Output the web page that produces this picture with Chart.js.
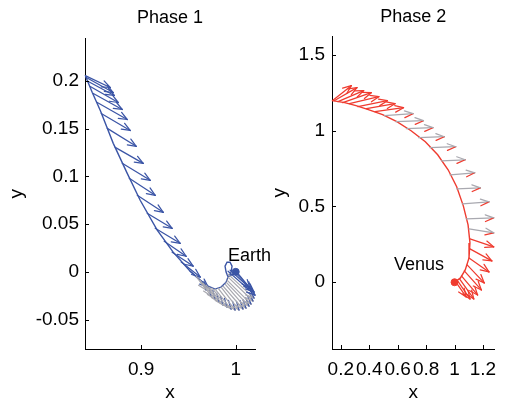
<!DOCTYPE html>
<html>
<head>
<meta charset="utf-8">
<script src="https://cdn.jsdelivr.net/npm/chart.js@4.4.1/dist/chart.umd.min.js"></script>
<style>
  body { margin: 0; background: #fff; }
  #c1 { position: absolute; left: 0; top: 0; }
  #c2 { position: absolute; left: 260px; top: 0; }
</style>
</head>
<body>
<canvas id="c1" width="290" height="406"></canvas>
<canvas id="c2" width="246" height="406"></canvas>
<script>
// Phase 1 - trajectory near Earth
const p1x = [0.8408, 0.8482, 0.8567, 0.8704, 0.8852, 0.8989, 0.9169, 0.9338, 0.9518, 0.9623, 0.9708, 0.9782, 0.9845, 0.9898, 0.9919, 0.9898, 0.9887, 0.9908, 0.9940, 0.9961, 0.9951, 0.9930, 0.9972, 1.0000];
const p1y = [0.2055, 0.1878, 0.1690, 0.1345, 0.1031, 0.0749, 0.0436, 0.0206, 0.0007, -0.0087, -0.0149, -0.0181, -0.0160, -0.0108, -0.0055, -0.0003, 0.0060, 0.0101, 0.0101, 0.0060, -0.0003, -0.0045, -0.0024, 0.0000];

// thrust arrows along the long leg
const q1x = [0.8408, 0.8419, 0.8440, 0.8461, 0.8493, 0.8535, 0.8577, 0.8641, 0.8725, 0.8799, 0.8873, 0.8958, 0.9063, 0.9148, 0.9243, 0.9327, 0.9423, 0.9518];
const q1y = [0.2055, 0.2034, 0.1993, 0.1940, 0.1867, 0.1773, 0.1658, 0.1502, 0.1303, 0.1136, 0.0979, 0.0801, 0.0613, 0.0456, 0.0320, 0.0206, 0.0102, 0.0007];
const q1u = [0.0264, 0.0285, 0.0275, 0.0296, 0.0306, 0.0317, 0.0306, 0.0306, 0.0296, 0.0296, 0.0275, 0.0275, 0.0264, 0.0264, 0.0232, 0.0222, 0.0201, 0.0190];
const q1v = [-0.0125, -0.0157, -0.0146, -0.0167, -0.0167, -0.0178, -0.0178, -0.0188, -0.0167, -0.0178, -0.0178, -0.0178, -0.0157, -0.0157, -0.0157, -0.0146, -0.0157, -0.0167];

// arrows in the hook close to Earth
const h1x = [0.9581, 0.9623, 0.9655, 0.9687, 0.9718, 0.9750, 0.9782, 0.9813, 0.9845, 0.9866, 0.9887, 0.9898, 0.9908, 0.9919, 0.9919, 0.9919, 0.9940, 0.9972, 1.0003];
const h1y = [-0.0045, -0.0087, -0.0118, -0.0139, -0.0160, -0.0170, -0.0181, -0.0170, -0.0160, -0.0149, -0.0129, -0.0108, -0.0087, -0.0055, -0.0024, 0.0007, 0.0018, 0.0018, 0.0007];
const h1u = [0.0106, 0.0116, 0.0127, 0.0137, 0.0148, 0.0158, 0.0169, 0.0180, 0.0190, 0.0211, 0.0222, 0.0243, 0.0254, 0.0264, 0.0275, 0.0285, 0.0254, 0.0201, 0.0148];
const h1v = [-0.0146, -0.0167, -0.0167, -0.0178, -0.0188, -0.0199, -0.0209, -0.0230, -0.0240, -0.0240, -0.0251, -0.0251, -0.0251, -0.0251, -0.0251, -0.0251, -0.0230, -0.0209, -0.0178];

// Phase 2 - arc to Venus
const p2x = [0.1399, 0.2267, 0.3069, 0.3937, 0.4939, 0.5941, 0.6943, 0.7945, 0.8814, 0.9548, 1.0150, 1.0617, 1.0951, 1.1085, 1.1018, 1.0751, 1.0417, 1.0000];
const p2y = [1.1967, 1.1835, 1.1637, 1.1373, 1.1043, 1.0581, 0.9987, 0.9261, 0.8403, 0.7413, 0.6290, 0.5036, 0.3782, 0.2594, 0.1604, 0.0812, 0.0284, 0.0000];

const q2x = [0.1399, 0.1532, 0.1800, 0.2134, 0.2601, 0.3202, 0.3804, 0.4405, 0.5073, 0.5874, 0.6609, 0.7478, 0.8279, 0.9081, 0.9682, 1.0150, 1.0551, 1.0818, 1.1018, 1.1085, 1.1085, 1.1018, 1.0885, 1.0684, 1.0484, 1.0351, 1.0217, 1.0083];
const q2y = [1.1967, 1.1967, 1.1901, 1.1835, 1.1769, 1.1571, 1.1439, 1.1241, 1.0977, 1.0581, 1.0119, 0.9525, 0.8865, 0.8007, 0.7082, 0.6158, 0.5168, 0.4178, 0.3518, 0.2858, 0.2198, 0.1604, 0.1142, 0.0746, 0.0416, 0.0218, 0.0086, 0.0020];
const q2u = [0.1336, 0.1603, 0.1804, 0.2004, 0.2071, 0.2071, 0.2004, 0.2004, 0.2004, 0.1937, 0.1870, 0.1804, 0.1804, 0.1670, 0.1737, 0.1670, 0.1870, 0.1937, 0.1737, 0.1670, 0.1536, 0.1403, 0.1202, 0.1202, 0.1136, 0.1002, 0.0868, 0.0735];
const q2v = [0.0990, 0.0858, 0.0726, 0.0660, 0.0462, 0.0396, 0.0330, 0.0264, 0.0132, 0.0066, 0.0066, 0.0066, 0.0066, 0.0066, 0.0132, 0.0066, 0.0132, 0.0066, -0.0264, -0.0528, -0.0792, -0.0924, -0.1188, -0.1254, -0.1254, -0.1320, -0.1188, -0.0990];

const earth = [1.0, 0.0];
const venus = [1.0, 0.0];

const x1Ticks = [0.9, 1];
const y1Ticks = [-0.05, 0, 0.05, 0.1, 0.15, 0.2];
const x2Ticks = [0.2, 0.4, 0.6, 0.8, 1, 1.2];
const y2Ticks = [0, 0.5, 1, 1.5];

const BLUE = '#3b55a6';
const RED = '#ef3b2f';
const GREY = '#a9a9b0';
const FONT = '"Liberation Sans", Arial, sans-serif';

Chart.defaults.font.family = FONT;
Chart.defaults.font.size = 19;
Chart.defaults.color = '#000';

function pts(xs, ys) {
  return xs.map((v, i) => ({x: v, y: ys[i]}));
}

function drawArrow(ctx, x0, y0, x1, y1, shaft, head) {
  const a = Math.atan2(y1 - y0, x1 - x0);
  const hl = 9, ha = 0.38;
  ctx.strokeStyle = shaft;
  ctx.beginPath();
  ctx.moveTo(x0, y0);
  ctx.lineTo(x1, y1);
  ctx.stroke();
  ctx.strokeStyle = head[0];
  ctx.beginPath();
  ctx.moveTo(x1 - hl * Math.cos(a - ha), y1 - hl * Math.sin(a - ha));
  ctx.lineTo(x1, y1);
  ctx.stroke();
  ctx.strokeStyle = head[1];
  ctx.beginPath();
  ctx.moveTo(x1, y1);
  ctx.lineTo(x1 - hl * Math.cos(a + ha), y1 - hl * Math.sin(a + ha));
  ctx.stroke();
}

// quiver + inward ticks + planet label
function extras(sets, label) {
  return {
    id: 'extras',
    afterDatasetsDraw(chart) {
      const {ctx, scales: {x, y}} = chart;
      ctx.save();
      ctx.lineWidth = 1.25;
      ctx.lineCap = 'round';
      sets.forEach(s => {
        s.x.forEach((bx, i) => {
          const st = s.style(i);
          drawArrow(ctx,
            x.getPixelForValue(bx), y.getPixelForValue(s.y[i]),
            x.getPixelForValue(bx + s.u[i]), y.getPixelForValue(s.y[i] + s.v[i]),
            st[0], [st[1], st[2]]);
        });
      });
      ctx.restore();

      ctx.save();
      ctx.strokeStyle = '#000';
      ctx.lineWidth = 1;
      const b = chart.chartArea.bottom, l = chart.chartArea.left;
      ctx.beginPath();
      x.ticks.forEach(t => {
        const px = Math.round(x.getPixelForValue(t.value)) + 0.5;
        ctx.moveTo(px, b); ctx.lineTo(px, b - 4);
      });
      y.ticks.forEach(t => {
        const py = Math.round(y.getPixelForValue(t.value)) + 0.5;
        ctx.moveTo(l, py); ctx.lineTo(l + 4, py);
      });
      ctx.stroke();
      ctx.fillStyle = '#000';
      ctx.font = '18px ' + FONT;
      ctx.textAlign = 'left';
      ctx.textBaseline = 'middle';
      ctx.fillText(label.text, x.getPixelForValue(label.x), y.getPixelForValue(label.y));
      ctx.restore();
    }
  };
}

function makeChart(id, o) {
  return new Chart(document.getElementById(id), {
    type: 'scatter',
    data: {
      datasets: [
        {data: pts(o.px, o.py), showLine: true, borderColor: o.color, borderWidth: 1.4, pointRadius: 0, fill: false},
        {data: [{x: o.planet[0], y: o.planet[1]}], pointRadius: 3.5, pointBackgroundColor: o.color, pointBorderColor: o.color, showLine: false}
      ]
    },
    options: {
      responsive: false,
      animation: false,
      layout: {padding: {left: 0, right: o.padRight, top: 0, bottom: 0}},
      plugins: {
        legend: {display: false},
        tooltip: {enabled: false},
        title: {display: true, text: o.title, fullSize: false, font: {size: 18, weight: 'normal'}, padding: o.titlePad}
      },
      scales: {
        x: {
          type: 'linear', min: o.xr[0], max: o.xr[1],
          grid: {display: false, drawTicks: false},
          border: {display: true, color: '#000', width: 1},
          afterBuildTicks: s => { s.ticks = o.xt.map(v => ({value: v})); },
          afterFit: s => { s.height = 57; },
          ticks: {autoSkip: false, maxRotation: 0, minRotation: 0, padding: 9, callback: v => String(v)},
          title: {display: true, text: 'x', font: {size: 19}, padding: {top: 0, bottom: 2}}
        },
        y: {
          type: 'linear', min: o.yr[0], max: o.yr[1],
          grid: {display: false, drawTicks: false},
          border: {display: true, color: '#000', width: 1},
          afterBuildTicks: s => { s.ticks = o.yt.map(v => ({value: v})); },
          afterFit: s => { s.width = o.yWidth; },
          ticks: {autoSkip: false, padding: o.yPad, callback: v => String(v)},
          title: {display: true, text: 'y', font: {size: 19}, padding: {top: o.yTitlePad, bottom: 0}}
        }
      }
    },
    plugins: [extras(o.sets, o.label)]
  });
}

makeChart('c1', {
  title: 'Phase 1', color: BLUE, px: p1x, py: p1y, planet: earth,
  xr: [0.8405, 1.0204], yr: [-0.0808, 0.2442], xt: x1Ticks, yt: y1Ticks,
  padRight: 35, titlePad: {top: 7, bottom: 10}, yWidth: 85, yPad: 6, yTitlePad: 5,
  label: {text: 'Earth', x: 0.9919, y: 0.0164},
  sets: [
    {x: q1x, y: q1y, u: q1u, v: q1v, style: () => [BLUE, BLUE, BLUE]},
    {x: h1x, y: h1y, u: h1u, v: h1v, style: i => i >= 15 ? [BLUE, BLUE, BLUE] : [GREY, GREY, BLUE]}
  ]
});

makeChart('c2', {
  title: 'Phase 2', color: RED, px: p2x, py: p2y, planet: venus,
  xr: [0.1379, 1.2822], yr: [-0.440, 1.619], xt: x2Ticks, yt: y2Ticks,
  padRight: 3, titlePad: {top: 6, bottom: 9}, yWidth: 72, yPad: 7, yTitlePad: 8,
  label: {text: 'Venus', x: 0.5741, y: 0.1142},
  sets: [
    {x: q2x, y: q2y, u: q2u, v: q2v, style: i => (i >= 8 && i <= 18) ? [GREY, RED, GREY] : [RED, RED, RED]}
  ]
});
</script>
</body>
</html>
